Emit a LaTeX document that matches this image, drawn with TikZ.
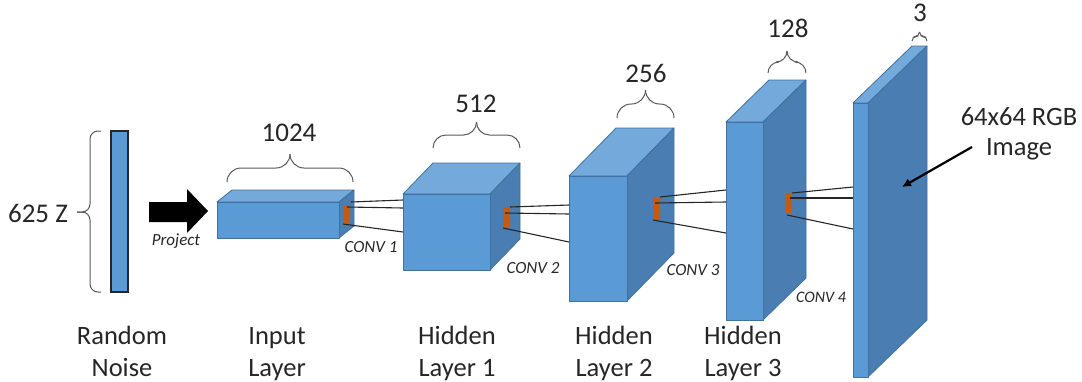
\documentclass[tikz,border=0pt]{standalone}
\usepackage{fontspec}
\setmainfont{Carlito}
\usetikzlibrary{arrows.meta}
\definecolor{frontc}{HTML}{5B9BD5}
\definecolor{topc}{HTML}{74A9DC}
\definecolor{sidec}{HTML}{4A7EB3}
\definecolor{edgec}{HTML}{41719C}
\definecolor{patchc}{HTML}{C55A11}
\definecolor{bracec}{HTML}{595959}
\definecolor{linec}{HTML}{262626}
\definecolor{txtc}{HTML}{262626}
\tikzset{
  face/.style={draw=edgec, line width=0.8pt, line join=round},
  bracestyle/.style={draw=bracec, line width=1pt, rounded corners=#1},
  lbl/.style={font=\fontsize{26.5}{32}\selectfont, align=center, text=txtc, inner sep=0pt, anchor=base},
  num/.style={font=\fontsize{27}{30}\selectfont, inner sep=0pt, anchor=base, text=txtc},
  conv/.style={font=\fontsize{17}{20}\selectfont\itshape, inner sep=0pt, anchor=base, text=txtc},
  kern/.style={fill=patchc, rounded corners=1.5pt},
  link/.style={draw=linec, line width=1.1pt},
}
% name, x1, y1, x2, y2, dx, dy
\newcommand{\layerbox}[7]{%
  \path[face, fill=topc] (#2,#3) -- (#4,#3) -- ++(#6,#7) -- ++({#2-#4},0) -- cycle;
  \path[face, fill=sidec] (#4,#3) -- (#4,#5) -- ++(#6,#7) -- ++(0,{#3-#5}) -- cycle;
  \path[face, fill=frontc] (#2,#3) rectangle (#4,#5);
  \coordinate (#1) at (#2,#3);
}
% top brace: x1, x2, y (ends), h (half amplitude)
\newcommand{\sizebrace}[4]{%
  \draw[bracestyle=#4] (#1,#3) -- (#1,{#3-#4}) -- ({(#1+#2)/2},{#3-#4}) -- ({(#1+#2)/2},{#3-2*#4});
  \draw[bracestyle=#4] (#2,#3) -- (#2,{#3-#4}) -- ({(#1+#2)/2},{#3-#4}) -- ({(#1+#2)/2},{#3-2*#4});
}
\begin{document}
\begin{tikzpicture}[x=1pt,y=-1pt]
\useasboundingbox (0,0) rectangle (1082,381);
% random noise
\path[draw=black!85, line width=1.5pt, fill=frontc] (111,131) rectangle (128,292);
\draw[bracestyle=8] (101,131) -- (90,131) -- (90,212) -- (77,212);
\draw[bracestyle=8] (101,292) -- (90,292) -- (90,212) -- (77,212);
\node[num] (z) at (38,222) {625 Z};
% project arrow
\fill[black] (149,202) -- (187,202) -- (187,189) -- (208,211) -- (187,233) -- (187,222) -- (149,222) -- cycle;
\node[conv] (proj) at (176,245) {Project};
% layers
\layerbox{inl}{217}{202}{339}{238}{15}{-12}
\layerbox{hla}{403}{194}{490}{270}{30}{-31}
\layerbox{hlb}{569}{176}{627}{301}{47}{-48}
\layerbox{hlc}{726}{122}{763}{320}{43}{-42}
\layerbox{outl}{853}{103}{868}{377}{59}{-57}
% kernels
\path[kern] (343,206) rectangle (350,223);
\path[kern] (503,207) rectangle (510,227);
\path[kern] (653,197) rectangle (660,220);
\path[kern] (785,193) rectangle (792,213);
% connector coordinates
\coordinate (k1a) at (351,202); \coordinate (k1b) at (347,207); \coordinate (k1c) at (343,224);
\coordinate (h1a) at (403,200); \coordinate (h1b) at (403,208); \coordinate (h1c) at (403,232);
\coordinate (k2a) at (510,207); \coordinate (k2b) at (505,213); \coordinate (k2c) at (503,228);
\coordinate (h2a) at (569,205); \coordinate (h2b) at (569,214); \coordinate (h2c) at (569,242);
\coordinate (k3a) at (660,197); \coordinate (k3b) at (655,203); \coordinate (k3c) at (653,220);
\coordinate (h3a) at (726,190); \coordinate (h3b) at (726,202); \coordinate (h3c) at (726,233);
\coordinate (k4a) at (792,193); \coordinate (k4b) at (790,198); \coordinate (k4c) at (787,215);
\coordinate (h4a) at (853,187); \coordinate (h4b) at (853,198); \coordinate (h4c) at (853,229);
\foreach \i in {1,2,3,4}{
  \draw[link] (k\i a) -- (h\i a);
  \draw[link] (k\i b) -- (h\i b);
  \draw[link] (k\i c) -- (h\i c);
}
% conv labels
\node[conv] (c1) at (371,252) {CONV 1};
\node[conv] (c2) at (533,273) {CONV 2};
\node[conv] (c3) at (693,275) {CONV 3};
\node[conv, font=\fontsize{16}{18}\selectfont\itshape] (c4) at (821,302) {CONV 4};
% braces and sizes
\sizebrace{227}{353}{182}{14}
\node[num] (n1024) at (289,141) {1024};
\sizebrace{433}{520}{148}{13}
\node[num] (n512) at (476,112) {512};
\sizebrace{617}{674}{118}{14}
\node[num] (n256) at (646,82) {256};
\sizebrace{768}{806}{73}{11}
\node[num] (n128) at (788,37) {128};
\sizebrace{912}{927}{41}{4.5}
\node[num] (n3) at (920,21) {3};
% output label
\node[lbl, font=\fontsize{26.5}{30}\selectfont] (rgb) at (1019,155) {64x64 RGB\\Image};
\coordinate (rgbtail) at (972,147);
\coordinate (rgbhead) at (902,187);
\draw[line width=2.2pt, -{Latex[length=9pt,width=9pt]}] (rgbtail) -- (rgbhead);
% bottom labels
\node[lbl] (lnoise) at (122,376) {Random\\Noise};
\node[lbl] (linput) at (277,376) {Input\\Layer};
\node[lbl] (lh1) at (457,376) {Hidden\\Layer 1};
\node[lbl] (lh2) at (614,376) {Hidden\\Layer 2};
\node[lbl] (lh3) at (743,376) {Hidden\\Layer 3};
\end{tikzpicture}
\end{document}
